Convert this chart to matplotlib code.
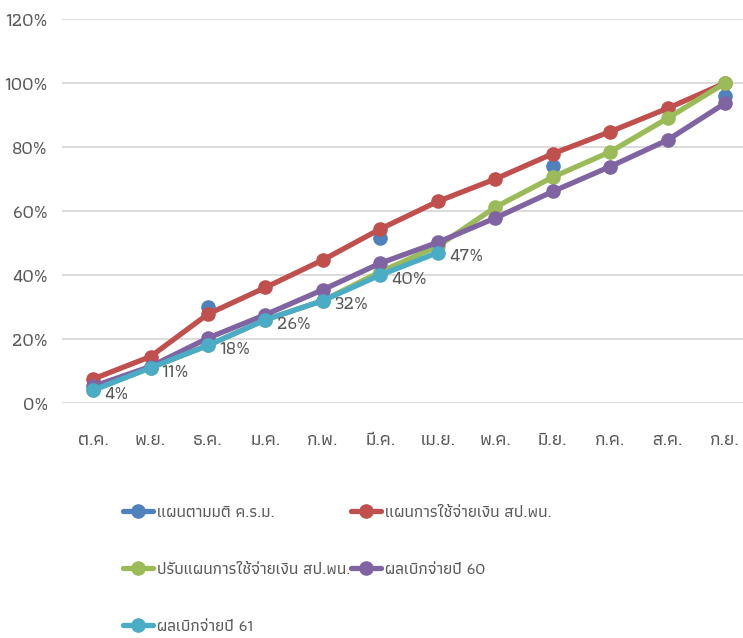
import matplotlib
matplotlib.use("Agg")
import matplotlib.pyplot as plt
import numpy as np
from matplotlib.ticker import PercentFormatter

plt.rcParams["font.family"] = ["Athiti", "DejaVu Sans"]
plt.rcParams["font.weight"] = "medium"

# Excel 2007 palette
COLORS = ["#4F81BD", "#C0504D", "#9BBB59", "#8064A2", "#4BACC6"]
TEXT_GREY = "#595959"

months = ["ต.ค.", "พ.ย.", "ธ.ค.", "ม.ค.", "ก.พ.", "มี.ค.",
          "เม.ย.", "พ.ค.", "มิ.ย.", "ก.ค.", "ส.ค.", "ก.ย."]

labels = ["แผนตามมติ ค.ร.ม.",
          "แผนการใช้จ่ายเงิน สป.พน.",
          "ปรับแผนการใช้จ่ายเงิน สป.พน.",
          "ผลเบิกจ่ายปี 60",
          "ผลเบิกจ่ายปี 61"]

nan = np.nan
# cabinet plan: quarterly points only
plan_cabinet = [nan, nan, 0.30, nan, nan, 0.515, nan, nan, 0.74, nan, nan, 0.96]
plan_office = [0.075, 0.145, 0.278, 0.361, 0.447, 0.544,
               0.630, 0.700, 0.779, 0.848, 0.921, 1.00]
plan_revised = [0.04, 0.11, 0.18, 0.26, 0.32, 0.41,
                0.49, 0.612, 0.706, 0.785, 0.89, 1.00]
actual_60 = [0.052, 0.114, 0.203, 0.276, 0.354, 0.437,
             0.502, 0.578, 0.661, 0.739, 0.822, 0.937]
actual_61 = [0.04, 0.11, 0.18, 0.26, 0.32, 0.40, 0.47]

series = [plan_cabinet, plan_office, plan_revised, actual_60, actual_61]

fig = plt.figure(figsize=(7.43, 6.38), dpi=100)
ax = fig.add_axes([62 / 743, 1 - 403 / 638, 681 / 743, (403 - 19) / 638])

x = np.arange(len(months))
handles = []
for i, (vals, lab) in enumerate(zip(series, labels)):
    xs = x[:len(vals)]
    h, = ax.plot(xs, vals, color=COLORS[i], lw=3.8, marker="o",
                 markersize=9.5, label=lab, zorder=3 + i,
                 solid_capstyle="round")
    handles.append(h)

for xi, v in zip(x, actual_61):
    ax.annotate(f"{v:.0%}", xy=(xi, v), xytext=(8, -3),
                textcoords="offset points", ha="left", va="center",
                fontsize=13.5, color=TEXT_GREY, zorder=10)

ax.set_ylim(0, 1.2)
ax.set_xlim(-0.54, 11.31)
ax.set_yticks(np.arange(0, 1.21, 0.2))
ax.yaxis.set_major_formatter(PercentFormatter(1.0, decimals=0))
ax.set_xticks(x)
ax.set_xticklabels(months)
ax.tick_params(axis="both", length=0, labelsize=13.5, colors=TEXT_GREY)
ax.tick_params(axis="y", pad=10)
ax.tick_params(axis="x", pad=21)
ax.grid(True, axis="y", color="#D9D9D9", lw=1.3)
ax.set_axisbelow(True)
for s in ax.spines.values():
    s.set_visible(False)

# Excel fills the legend row by row; matplotlib fills column by column
order = [0, 2, 4, 1, 3]
leg = fig.legend([handles[k] for k in order], [labels[k] for k in order],
                 loc="upper left", bbox_to_anchor=(123 / 743, 1 - 505 / 638),
                 ncol=2, frameon=False, fontsize=12, handlelength=1.8,
                 handletextpad=0.25, columnspacing=0.0, labelspacing=2.55,
                 borderaxespad=0, borderpad=0)
for t in leg.get_texts():
    t.set_color(TEXT_GREY)

fig.savefig("out.png", dpi=100)
